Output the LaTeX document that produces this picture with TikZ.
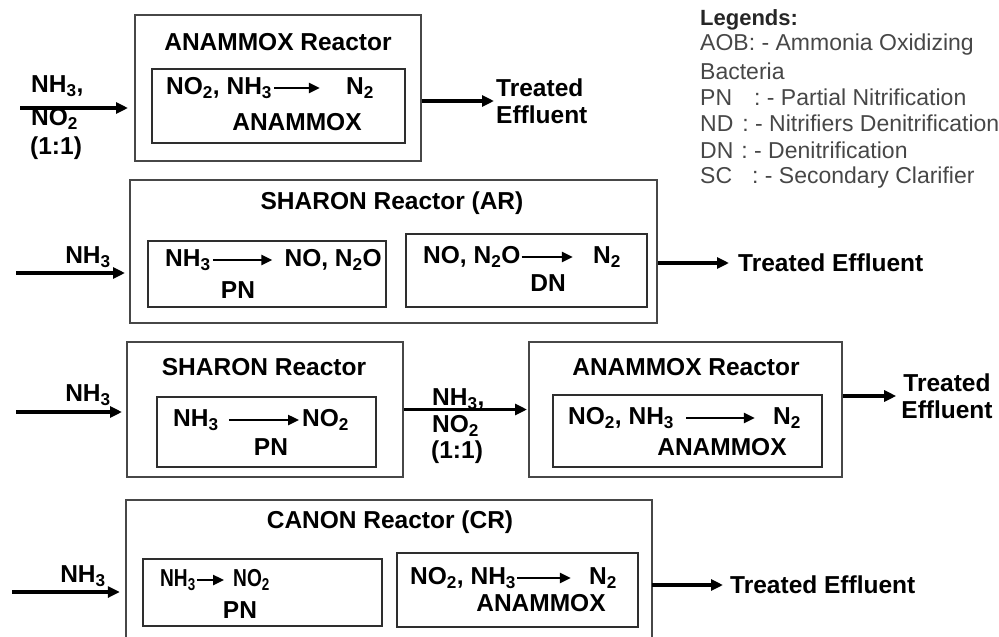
\documentclass[tikz,border=0pt]{standalone}
\usepackage{fontspec}
\setmainfont{Liberation Sans}
\usetikzlibrary{arrows.meta}
\newcommand{\chsub}[1]{\textsubscript{#1}}
\begin{document}
\begin{tikzpicture}[x=1pt,y=-1pt,
  boxline/.style={draw=black!72,line width=2pt},
  obox/.style={boxline,inner sep=0pt},
  ibox/.style={draw=black!82,line width=1.8pt,inner sep=0pt},
  txt/.style={font=\fontsize{24.5}{27}\selectfont\bfseries,inner sep=0pt},
  leg/.style={font=\fontsize{23}{26}\selectfont,text=black!72,anchor=west,inner sep=0pt},
  flow/.style={line width=3.2pt,-{Triangle[length=12pt,width=11pt]}},
  rxn/.style={line width=2.4pt,-{Triangle[length=11pt,width=10pt]}}]
\useasboundingbox (0,0) rectangle (999,637);

% ---------- Row 1 ----------
\node[obox,minimum width=286pt,minimum height=146pt] (r1) at (278,88) {};
\node[txt] (r1t) at (278,42) {ANAMMOX Reactor};
\node[ibox,minimum width=253pt,minimum height=74pt] (r1i) at (278.5,106) {};
\node[txt,anchor=west] (r1a) at (166,88) {NO\chsub{2}, NH\chsub{3}};
\node[txt] (r1b) at (360,88) {N\chsub{2}};
\draw[rxn,shorten <=2pt,shorten >=26pt] (r1a.east) -- (r1b.west);
\node[txt] (r1c) at (297,122) {ANAMMOX};
\coordinate (r1s) at (20,108);
\draw[flow,shorten >=6pt] (r1s) -- (r1s -| r1.west);
\node[txt,anchor=west] (r1l1) at (31,86) {NH\chsub{3},};
\node[txt,anchor=west] (r1l2) at (31,119) {NO\chsub{2}};
\node[txt,anchor=west] (r1l3) at (30,148) {(1:1)};
\node[txt,anchor=west,align=left] (r1o) at (496,101) {Treated\\Effluent};
\draw[flow,shorten >=2pt] (r1o.west -| r1.east) -- (r1o.west);

% ---------- Legend ----------
\node[leg,font=\fontsize{22}{26}\selectfont\bfseries,text=black!85] (l0) at (700,20) {Legends:};
\node[leg] (l1) at (700,45) {AOB: - Ammonia Oxidizing};
\node[leg] (l2) at (700,71) {Bacteria};
\node[leg] (l3) at (700,97) {PN\hspace{22pt}: - Partial Nitrification};
\node[leg] (l4) at (700,123) {ND\hspace{9pt}: - Nitrifiers Denitrification};
\node[leg] (l5) at (700,150) {DN\hspace{8pt}: - Denitrification};
\node[leg] (l6) at (700,178) {SC\hspace{20pt}: - Secondary Clarifier};

% ---------- Row 2 ----------
\node[obox,minimum width=527pt,minimum height=143pt] (r2) at (393.5,251.5) {};
\node[txt] (r2t) at (392,203) {SHARON Reactor (AR)};
\node[ibox,minimum width=238pt,minimum height=66pt] (r2i1) at (267,274) {};
\node[ibox,minimum width=241pt,minimum height=73pt] (r2i2) at (526.5,270.5) {};
\node[txt,anchor=west] (r2a) at (165,260) {NH\chsub{3}};
\node[txt,anchor=east] (r2b) at (382,260) {NO, N\chsub{2}O};
\draw[rxn,shorten <=2pt,shorten >=12pt] (r2a.east) -- (r2b.west);
\node[txt] (r2pn) at (238,290) {PN};
\node[txt,anchor=west] (r2c) at (423,257) {NO, N\chsub{2}O};
\node[txt] (r2d) at (607,257) {N\chsub{2}};
\draw[rxn,shorten <=1pt,shorten >=20pt] (r2c.east) -- (r2d.west);
\node[txt] (r2dn) at (548,283) {DN};
\coordinate (r2s) at (16,273);
\draw[flow,shorten >=4pt] (r2s) -- (r2s -| r2.west);
\node[txt] (r2l) at (88,257) {NH\chsub{3}};
\node[txt,anchor=west] (r2o) at (738,263) {Treated Effluent};
\draw[flow,shorten >=9pt] (r2o.west -| r2.east) -- (r2o.west);

% ---------- Row 3 ----------
\node[obox,minimum width=276pt,minimum height=135pt] (r3a) at (265,409.5) {};
\node[txt] (r3at) at (264,367) {SHARON Reactor};
\node[ibox,minimum width=219pt,minimum height=70pt] (r3ai) at (266.5,432) {};
\node[txt,anchor=west] (r3aa) at (173,420) {NH\chsub{3}};
\node[txt,anchor=west] (r3ab) at (302,420) {NO\chsub{2}};
\draw[rxn,shorten <=10pt,shorten >=3pt] (r3aa.east) -- (r3ab.west);
\node[txt] (r3pn) at (271,447) {PN};
\node[obox,minimum width=313pt,minimum height=135pt] (r3b) at (685.5,409.5) {};
\node[txt] (r3bt) at (686,367) {ANAMMOX Reactor};
\node[ibox,minimum width=269pt,minimum height=72pt] (r3bi) at (687.5,431) {};
\node[txt,anchor=west] (r3ba) at (568,418) {NO\chsub{2}, NH\chsub{3}};
\node[txt] (r3bb) at (787,418) {N\chsub{2}};
\draw[rxn,shorten <=12pt,shorten >=18pt] (r3ba.east) -- (r3bb.west);
\node[txt] (r3bc) at (722,447) {ANAMMOX};
\draw[flow,shorten >=1pt] (r3a.east) -- (r3b.west);
\node[txt,anchor=west] (r3l1) at (432,399) {NH\chsub{3},};
\node[txt,anchor=west] (r3l2) at (432,426) {NO\chsub{2}};
\node[txt,anchor=west] (r3l3) at (431,452) {(1:1)};
\coordinate (r3s) at (16,412);
\draw[flow,shorten >=4pt] (r3s) -- (r3s -| r3a.west);
\node[txt] (r3l) at (88,395) {NH\chsub{3}};
\node[txt,align=center] (r3o) at (947,396) {Treated\\Effluent};
\draw[flow,shorten >=5pt] (r3o.west -| r3b.east) -- (r3o.west);

% ---------- Row 4 ----------
\node[inner sep=0pt,minimum width=526pt,minimum height=137pt] (r4) at (389,568.5) {};
\draw[boxline] (r4.south west) -- (r4.north west) -- (r4.north east) -- (r4.south east);
\node[txt] (r4t) at (390,522) {CANON Reactor (CR)};
\node[ibox,minimum width=239pt,minimum height=67pt] (r4i1) at (262.5,592.5) {};
\node[ibox,minimum width=241pt,minimum height=74pt] (r4i2) at (517.5,590) {};
\node[txt,anchor=west] (r4a) at (160,580) {\scalebox{0.78}[1]{NH\chsub{3}}};
\node[txt,anchor=west] (r4b) at (233,580) {\scalebox{0.78}[1]{NO\chsub{2}}};
\draw[rxn,shorten <=1pt,shorten >=9pt] (r4a.east) -- (r4b.west);
\node[txt] (r4pn) at (240,610) {PN};
\node[txt,anchor=west] (r4c) at (410,578) {NO\chsub{2}, NH\chsub{3}};
\node[txt] (r4d) at (603,578) {N\chsub{2}};
\draw[rxn,shorten <=1pt,shorten >=18pt] (r4c.east) -- (r4d.west);
\node[txt] (r4e) at (541,603) {ANAMMOX};
\coordinate (r4s) at (12,592);
\draw[flow,shorten >=6pt] (r4s) -- (r4s -| r4.west);
\node[txt] (r4l) at (83,576) {NH\chsub{3}};
\node[txt,anchor=west] (r4o) at (730,585) {Treated Effluent};
\draw[flow,shorten >=7pt] (r4o.west -| r4.east) -- (r4o.west);
\end{tikzpicture}
\end{document}
